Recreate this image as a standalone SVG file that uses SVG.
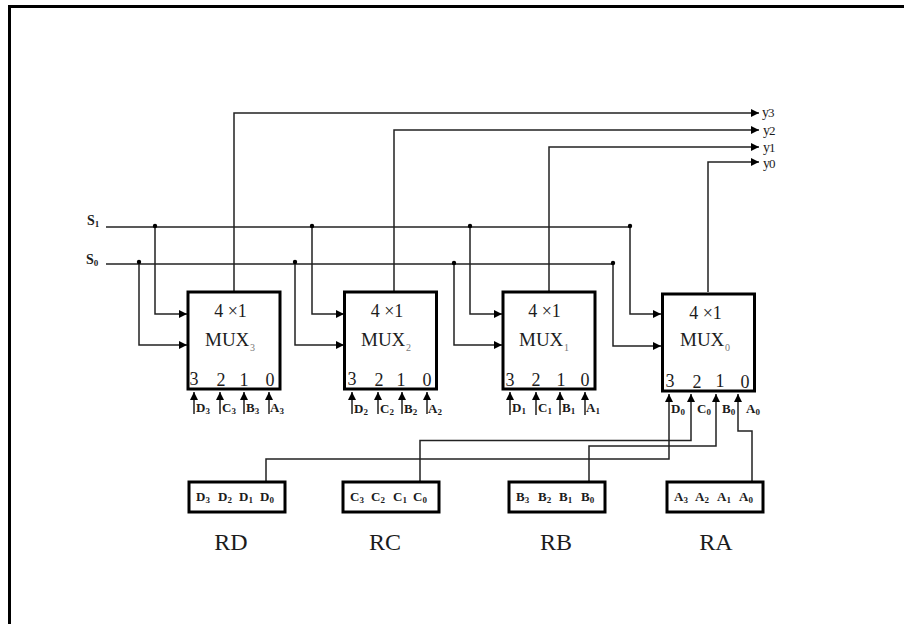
<svg xmlns="http://www.w3.org/2000/svg" width="904" height="624" viewBox="0 0 904 624">
<style>
text{font-family:"Liberation Serif",serif;fill:#1c1c1c}
.box{fill:#fff;stroke:#000;stroke-width:3}
.w{fill:none;stroke:#222;stroke-width:1.5}
.t{font-size:18px;text-anchor:middle}
.m{font-size:19px}
.n{font-size:18px;text-anchor:middle}
.b{font-size:13px;font-weight:bold}
.r{font-size:24px;text-anchor:middle}
.s{font-size:9px}
.ms{font-size:10px;fill:#777}
.c{font-size:14px;font-weight:bold}
.o{font-size:14px}
.od{font-size:13px}
</style>
<defs>
<marker id="ar" markerUnits="userSpaceOnUse" markerWidth="9" markerHeight="9" refX="8" refY="4" orient="auto"><path d="M0,0L8,4L0,8Z" fill="#000"/></marker>
<g id="dot"><circle r="2.2" fill="#000"/></g>
</defs>
<rect width="904" height="624" fill="#fff"/>
<path d="M9.500,624V6.500H904" fill="none" stroke="#000" stroke-width="3"/>
<g id="connectors">
<path class="w" marker-end="url(#ar)" d="M234,291V113H759"/>
<path class="w" marker-end="url(#ar)" d="M394,291V130H759"/>
<path class="w" marker-end="url(#ar)" d="M549,291V147H759"/>
<path class="w" marker-end="url(#ar)" d="M708,292V162H759"/>
<path class="w" d="M106,227H630"/>
<path class="w" d="M106,264H614"/>
<path class="w" marker-end="url(#ar)" d="M155,226V314H187"/>
<path class="w" marker-end="url(#ar)" d="M139,262V345H187"/>
<path class="w" marker-end="url(#ar)" d="M312,226V314H344"/>
<path class="w" marker-end="url(#ar)" d="M295,262V345H344"/>
<path class="w" marker-end="url(#ar)" d="M470,226V314H502"/>
<path class="w" marker-end="url(#ar)" d="M454,263V345H502"/>
<path class="w" marker-end="url(#ar)" d="M630,226V314H661"/>
<path class="w" marker-end="url(#ar)" d="M613,263V346H661"/>
<path class="w" marker-end="url(#ar)" d="M194,414V392"/><path class="w" marker-end="url(#ar)" d="M220,414V392"/><path class="w" marker-end="url(#ar)" d="M244,414V392"/><path class="w" marker-end="url(#ar)" d="M269,414V392"/>
<path class="w" marker-end="url(#ar)" d="M352,414V392"/><path class="w" marker-end="url(#ar)" d="M378,414V392"/><path class="w" marker-end="url(#ar)" d="M402,414V392"/><path class="w" marker-end="url(#ar)" d="M427,414V392"/>
<path class="w" marker-end="url(#ar)" d="M510,415V392"/><path class="w" marker-end="url(#ar)" d="M536,415V392"/><path class="w" marker-end="url(#ar)" d="M560,415V392"/><path class="w" marker-end="url(#ar)" d="M585,415V392"/>
<path class="w" marker-end="url(#ar)" d="M266,481V459H669V394"/>
<path class="w" marker-end="url(#ar)" d="M420,481V440.500H691V394"/>
<path class="w" marker-end="url(#ar)" d="M589,481V446H716V394"/>
<path class="w" marker-end="url(#ar)" d="M752,481V431H738V394"/>
<use href="#dot" x="155" y="226"/><use href="#dot" x="139" y="262"/><use href="#dot" x="312" y="226"/><use href="#dot" x="295" y="262"/><use href="#dot" x="470" y="226"/><use href="#dot" x="454" y="263"/><use href="#dot" x="630" y="226"/><use href="#dot" x="613" y="263"/>
</g>
<g id="mux3"><rect class="box" x="188" y="292" width="92" height="97"/><text class="t" x="230.500" y="317">4 ×1</text><text class="m" x="205" y="346">MUX</text><text class="ms" x="250" y="351">3</text><text class="n" x="194" y="385">3</text><text class="n" x="221" y="386">2</text><text class="n" x="244" y="386">1</text><text class="n" x="270" y="386">0</text></g>
<g id="mux2"><rect class="box" x="344.500" y="292" width="92" height="97"/><text class="t" x="387" y="317">4 ×1</text><text class="m" x="361" y="346">MUX</text><text class="ms" x="406" y="351">2</text><text class="n" x="352" y="385">3</text><text class="n" x="379" y="386">2</text><text class="n" x="401" y="386">1</text><text class="n" x="427" y="386">0</text></g>
<g id="mux1"><rect class="box" x="503" y="292" width="92" height="97"/><text class="t" x="544.500" y="317">4 ×1</text><text class="m" x="519" y="346">MUX</text><text class="ms" x="564" y="351">1</text><text class="n" x="510" y="386">3</text><text class="n" x="536" y="386">2</text><text class="n" x="561" y="386">1</text><text class="n" x="585" y="386">0</text></g>
<g id="mux0"><rect class="box" x="662.500" y="294" width="92" height="97"/><text class="t" x="705.500" y="319">4 ×1</text><text class="m" x="680" y="346">MUX</text><text class="ms" x="725" y="351">0</text><text class="n" x="670" y="387">3</text><text class="n" x="697" y="388">2</text><text class="n" x="720" y="387">1</text><text class="n" x="745" y="388">0</text></g>
<g id="inputs" class="b">
<text x="196" y="412">D<tspan class="s" dy="2">3</tspan></text><text x="222" y="412">C<tspan class="s" dy="2">3</tspan></text><text x="246" y="412">B<tspan class="s" dy="2">3</tspan></text><text x="270" y="412">A<tspan class="s" dy="2">3</tspan></text>
<text x="354" y="413">D<tspan class="s" dy="2">2</tspan></text><text x="380" y="413">C<tspan class="s" dy="2">2</tspan></text><text x="404" y="413">B<tspan class="s" dy="2">2</tspan></text><text x="428" y="413">A<tspan class="s" dy="2">2</tspan></text>
<text x="512" y="412">D<tspan class="s" dy="2">1</tspan></text><text x="538" y="412">C<tspan class="s" dy="2">1</tspan></text><text x="562" y="412">B<tspan class="s" dy="2">1</tspan></text><text x="586" y="412">A<tspan class="s" dy="2">1</tspan></text>
<text x="671" y="413">D<tspan class="s" dy="2">0</tspan></text><text x="697" y="413">C<tspan class="s" dy="2">0</tspan></text><text x="722" y="413">B<tspan class="s" dy="2">0</tspan></text><text x="746" y="413">A<tspan class="s" dy="2">0</tspan></text>
</g>
<g id="rd"><rect class="box" x="189" y="482" width="96" height="30"/><text class="b" x="196" y="501">D<tspan class="s" dy="2">3</tspan></text><text class="b" x="218" y="501">D<tspan class="s" dy="2">2</tspan></text><text class="b" x="239" y="501">D<tspan class="s" dy="2">1</tspan></text><text class="b" x="260" y="501">D<tspan class="s" dy="2">0</tspan></text><text class="r" x="231" y="550">RD</text></g>
<g id="rc"><rect class="box" x="343" y="482" width="96" height="30"/><text class="b" x="350" y="501">C<tspan class="s" dy="2">3</tspan></text><text class="b" x="371" y="501">C<tspan class="s" dy="2">2</tspan></text><text class="b" x="393" y="501">C<tspan class="s" dy="2">1</tspan></text><text class="b" x="413" y="501">C<tspan class="s" dy="2">0</tspan></text><text class="r" x="385" y="550">RC</text></g>
<g id="rb"><rect class="box" x="509" y="482" width="96" height="30"/><text class="b" x="516" y="501">B<tspan class="s" dy="2">3</tspan></text><text class="b" x="538" y="501">B<tspan class="s" dy="2">2</tspan></text><text class="b" x="559" y="501">B<tspan class="s" dy="2">1</tspan></text><text class="b" x="581" y="501">B<tspan class="s" dy="2">0</tspan></text><text class="r" x="556" y="550">RB</text></g>
<g id="ra"><rect class="box" x="667" y="482" width="96" height="30"/><text class="b" x="674" y="501">A<tspan class="s" dy="2">3</tspan></text><text class="b" x="695" y="501">A<tspan class="s" dy="2">2</tspan></text><text class="b" x="717" y="501">A<tspan class="s" dy="2">1</tspan></text><text class="b" x="739" y="501">A<tspan class="s" dy="2">0</tspan></text><text class="r" x="716" y="550">RA</text></g>
<g id="s1"><text class="c" x="87" y="225">S<tspan class="s" dy="2">1</tspan></text></g>
<g id="s0"><text class="c" x="86" y="264">S<tspan class="s" dy="2">0</tspan></text></g>
<g id="outputs" class="o"><text x="762" y="117" letter-spacing="-1">y<tspan class="od">3</tspan></text><text x="763" y="135" letter-spacing="-1">y<tspan class="od">2</tspan></text><text x="763" y="152" letter-spacing="-1">y<tspan class="od">1</tspan></text><text x="763" y="168" letter-spacing="-1">y<tspan class="od">0</tspan></text></g>
</svg>
